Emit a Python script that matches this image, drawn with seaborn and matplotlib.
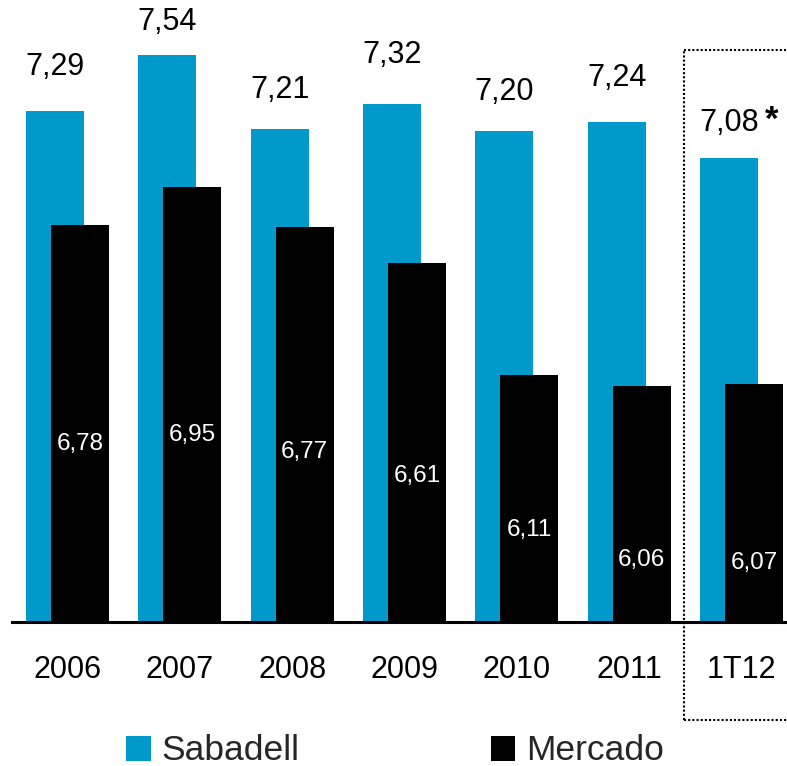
import numpy as np
import pandas as pd
import matplotlib
matplotlib.use("Agg")
import matplotlib.pyplot as plt
import seaborn as sns
from matplotlib.patches import Patch
from matplotlib.lines import Line2D

categories = ["2006", "2007", "2008", "2009", "2010", "2011", "1T12"]
sabadell = [7.29, 7.54, 7.21, 7.32, 7.20, 7.24, 7.08]
mercado = [6.78, 6.95, 6.77, 6.61, 6.11, 6.06, 6.07]

# label positions (data units)
sab_label_y = [7.484, 7.685, 7.382, 7.538, 7.373, 7.435, 7.235]
mer_label_y = [5.804, 5.844, 5.768, 5.661, 5.420, 5.286, 5.273]

BLUE = "#0099CC"
W, H, DPI = 787, 766, 100

sns.set_theme(style="white")
plt.rcParams["font.family"] = ["Liberation Sans", "DejaVu Sans"]

fig = plt.figure(figsize=(W / DPI, H / DPI), dpi=DPI)
ax = fig.add_axes([12 / W, (H - 622) / H, 1 - 12 / W, 622 / H])

idx = np.arange(len(categories))
off = 0.111
bw = 58 / 112.33

df_s = pd.DataFrame({"x": idx - off, "v": sabadell})
df_m = pd.DataFrame({"x": idx + off, "v": mercado})
sns.barplot(data=df_s, x="x", y="v", native_scale=True, color=BLUE,
            width=bw, saturation=1, ax=ax, linewidth=0, zorder=2)
sns.barplot(data=df_m, x="x", y="v", native_scale=True, color="black",
            width=bw, saturation=1, ax=ax, linewidth=0, zorder=3)

ax.set_xlim(-0.494, 6.405)
ax.set_ylim(5.01, 5.01 + 622 / 224.3)

for sp in ["top", "right", "left"]:
    ax.spines[sp].set_visible(False)
ax.spines["bottom"].set_linewidth(2.2)
ax.spines["bottom"].set_color("black")
ax.spines["bottom"].set_zorder(5)
ax.set_yticks([])
ax.set_xticks(idx)
ax.set_xticklabels(categories, fontsize=22)
ax.tick_params(axis="x", length=0, pad=24, colors="black")
ax.set_xlabel("")
ax.set_ylabel("")

for i in idx:
    txt = f"{sabadell[i]:.2f}".replace(".", ",")
    ax.text(i - off, sab_label_y[i], txt, ha="center", va="center",
            fontsize=22, color="black")
    mtxt = f"{mercado[i]:.2f}".replace(".", ",")
    ax.text(i + off, mer_label_y[i], mtxt, ha="center", va="center",
            fontsize=17.5, color="white", zorder=6)

# asterisk next to last value
ax.annotate("*", xy=(idx[-1] - off, sab_label_y[-1]), xytext=(31, 2),
            textcoords="offset points", ha="center", va="center",
            fontsize=25, fontweight="bold", color="black")

# dotted box (open on the right, runs off the image) around the last category
x0, x1 = 684 / W, 1.0
yt, yb = (H - 50) / H, (H - 720) / H
for xs, ys in [((x0, x0), (yb, yt)), ((x0, x1), (yt, yt)), ((x0, x1), (yb, yb))]:
    fig.add_artist(Line2D(xs, ys, transform=fig.transFigure, color="black",
                          linestyle=(0, (1, 1)), linewidth=1.5))

handles = [Patch(facecolor=BLUE, edgecolor="none"),
           Patch(facecolor="black", edgecolor="none")]
fig.legend(handles, ["Sabadell", "Mercado"], ncol=2, frameon=False,
           loc="center left", bbox_to_anchor=(126 / W, 15 / H),
           fontsize=25.5, handlelength=0.7, handleheight=0.7,
           handletextpad=0.3, columnspacing=5.4, borderpad=0,
           borderaxespad=0)

fig.savefig("out.png", dpi=DPI)
